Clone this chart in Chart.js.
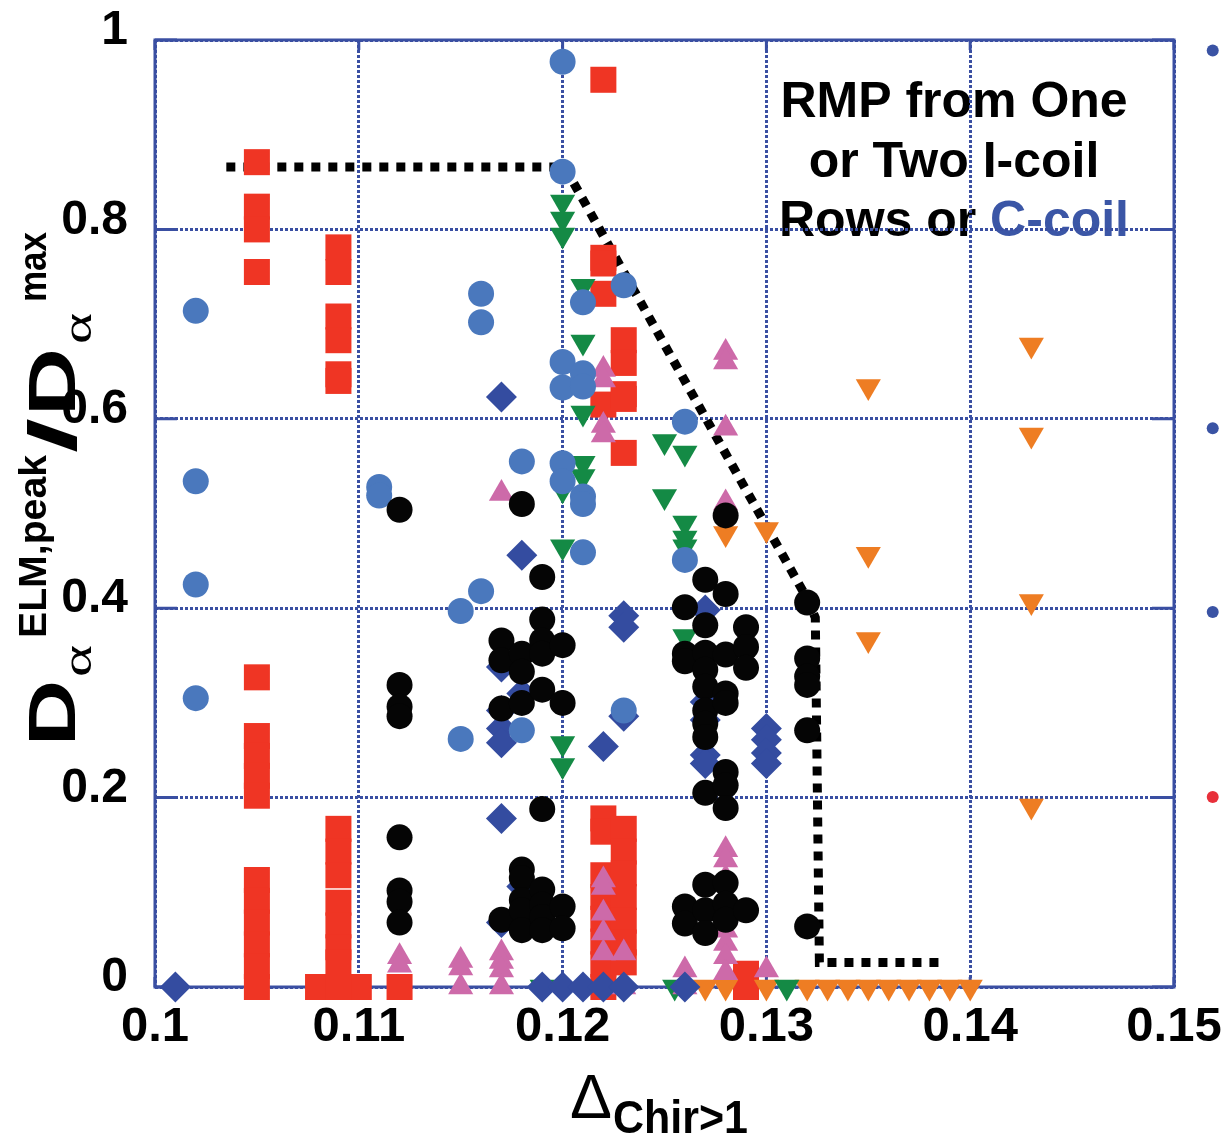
<!DOCTYPE html>
<html>
<head>
<meta charset="utf-8">
<script src="https://cdn.jsdelivr.net/npm/chart.js@4/dist/chart.umd.min.js"></script>
<style>
html,body{margin:0;padding:0;background:#fff;}
#wrap{width:1228px;height:1137px;position:relative;}
canvas{display:block;}
</style>
</head>
<body>
<div id="wrap"><canvas id="c" width="1228" height="1137"></canvas></div>
<script>
// ---------- DATA ----------
const xTickLabels = ['0.1', '0.11', '0.12', '0.13', '0.14', '0.15'];
const yTickLabels = ['0', '0.2', '0.4', '0.6', '0.8', '1'];

const lightBlueCircles = [
  [0.102,0.714],[0.102,0.534],[0.102,0.425],[0.102,0.305],
  [0.111,0.528],[0.111,0.519],
  [0.115,0.397],[0.115,0.262],
  [0.116,0.732],[0.116,0.702],[0.116,0.418],
  [0.118,0.555],[0.118,0.271],
  [0.120,0.977],[0.120,0.861],[0.120,0.660],[0.120,0.633],[0.120,0.553],[0.120,0.534],
  [0.121,0.723],[0.121,0.648],[0.121,0.634],[0.121,0.518],[0.121,0.510],[0.121,0.459],
  [0.123,0.741],[0.123,0.292],
  [0.126,0.597],[0.126,0.451]
];

const redSquares = [
  [0.105,0.871],[0.105,0.824],[0.105,0.800],[0.105,0.755],[0.105,0.327],
  [0.105,0.265],[0.105,0.244],[0.105,0.223],[0.105,0.202],
  [0.105,0.113],[0.105,0.091],[0.105,0.068],[0.105,0.045],[0.105,0.022],[0.105,0],
  [0.108,0],[0.110,0],[0.112,0],
  [0.109,0.781],[0.109,0.755],[0.109,0.708],[0.109,0.683],[0.109,0.647],[0.109,0.640],
  [0.109,0.167],[0.109,0.143],[0.109,0.118],[0.109,0.089],[0.109,0.065],[0.109,0.042],[0.109,0.026],[0.109,0],
  [0.122,0.958],[0.122,0.770],[0.122,0.764],[0.122,0.732],[0.122,0.615],
  [0.122,0.178],[0.122,0.164],[0.122,0.118],[0.122,0.095],[0.122,0.072],[0.122,0.048],[0.122,0.024],[0.122,0],
  [0.123,0.683],[0.123,0.659],[0.123,0.626],[0.123,0.621],[0.123,0.564],
  [0.123,0.167],[0.123,0.143],[0.123,0.120],[0.123,0.095],[0.123,0.070],[0.123,0.047],[0.123,0.026],
  [0.129,0.014],[0.129,0]
];

const navyDiamonds = [
  [0.101,0],[0.117,0.623],[0.118,0.456],[0.123,0.392],[0.123,0.380],[0.122,0.254],[0.123,0.286],
  [0.127,0.398],[0.127,0.301],[0.127,0.282],[0.127,0.245],[0.127,0.236],
  [0.130,0.273],[0.130,0.261],[0.130,0.247],[0.130,0.236],
  [0.117,0.338],[0.117,0.292],[0.117,0.273],[0.117,0.258],[0.117,0.178],[0.117,0.068],
  [0.118,0.310],[0.118,0.106],
  [0.119,0],[0.120,0],[0.121,0],[0.122,0],[0.123,0],[0.126,0]
];

const blackCircles = [
  [0.112,0.504],[0.112,0.319],[0.112,0.296],[0.112,0.286],[0.112,0.158],[0.112,0.102],[0.112,0.090],[0.112,0.068],
  [0.117,0.366],[0.117,0.345],[0.117,0.294],[0.117,0.071],
  [0.118,0.510],[0.118,0.352],[0.118,0.333],[0.118,0.300],[0.118,0.124],[0.118,0.115],[0.118,0.092],[0.118,0.081],[0.118,0.060],
  [0.119,0.433],[0.119,0.388],[0.119,0.366],[0.119,0.352],[0.119,0.314],[0.119,0.188],[0.119,0.103],[0.119,0.087],[0.119,0.074],[0.119,0.060],
  [0.120,0.361],[0.120,0.300],[0.120,0.085],[0.120,0.062],
  [0.126,0.401],[0.126,0.352],[0.126,0.344],[0.126,0.085],[0.126,0.067],
  [0.127,0.430],[0.127,0.382],[0.127,0.353],[0.127,0.335],[0.127,0.317],[0.127,0.292],[0.127,0.278],[0.127,0.264],[0.127,0.205],[0.127,0.108],[0.127,0.081],[0.127,0.057],
  [0.128,0.498],[0.128,0.415],[0.128,0.351],[0.128,0.310],[0.128,0.300],[0.128,0.227],[0.128,0.213],[0.128,0.189],[0.128,0.110],[0.128,0.088],[0.128,0.071],
  [0.129,0.380],[0.129,0.359],[0.129,0.337],[0.129,0.081],
  [0.132,0.406],[0.132,0.347],[0.132,0.328],[0.132,0.319],[0.132,0.271],[0.132,0.064]
];

const greenDownTriangles = [
  [0.120,0.829],[0.120,0.811],[0.120,0.794],[0.121,0.740],[0.121,0.681],[0.121,0.606],
  [0.121,0.553],[0.121,0.539],[0.120,0.525],[0.120,0.465],
  [0.125,0.576],[0.126,0.564],[0.125,0.518],[0.126,0.490],[0.126,0.474],[0.126,0.465],[0.126,0.370],
  [0.120,0.257],[0.120,0.234],
  [0.119,0],[0.1255,0],[0.131,0]
];

const orangeDownTriangles = [
  [0.143,0.678],[0.135,0.634],[0.143,0.583],[0.135,0.457],[0.143,0.407],[0.135,0.367],[0.143,0.191],
  [0.128,0.479],[0.130,0.483],
  [0.127,0],[0.128,0],[0.130,0],[0.132,0],[0.133,0],[0.134,0],[0.135,0],[0.136,0],[0.137,0],[0.138,0],[0.139,0],[0.140,0]
];

const pinkUpTriangles = [
  [0.117,0.521],[0.122,0.652],[0.122,0.641],[0.122,0.593],[0.122,0.583],
  [0.128,0.670],[0.128,0.660],[0.128,0.590],[0.128,0.511],
  [0.122,0.113],[0.122,0.105],[0.122,0.078],[0.122,0.057],[0.122,0.036],
  [0.123,0.036],[0.123,0],
  [0.126,0.018],[0.126,0],
  [0.128,0.145],[0.128,0.134],[0.128,0.115],[0.128,0.095],[0.128,0.074],[0.128,0.060],[0.128,0.046],[0.128,0.032],[0.128,0.015],
  [0.130,0.018],
  [0.112,0.032],[0.112,0.023],
  [0.115,0.028],[0.115,0.020],[0.115,0],
  [0.117,0.036],[0.117,0.027],[0.117,0.018],[0.117,0]
];

const boundaryLine = [
  [0.1035,0.866],[0.1201,0.866],[0.1320,0.410],[0.1324,0.390],[0.1326,0.026],[0.1388,0.026]
];

const sideBulletX = [0.1519, 0.1519, 0.1519, 0.1519];
const sideBulletY = [0.989, 0.590, 0.396, 0.2006];

// ---------- STYLE ----------
const GRID = '#3a4fa2';
const SANS = '"Liberation Sans", Arial, sans-serif';
const toPts = a => a.map(p => ({x: p[0], y: p[1]}));

function markerSet(label, data, style, radius, color, rotation) {
  return {
    label, data: toPts(data), showLine: false, clip: false,
    pointStyle: style, pointRadius: radius, pointHoverRadius: radius,
    pointBackgroundColor: color, backgroundColor: color,
    pointBorderWidth: 0, borderWidth: 0, pointRotation: rotation || 0
  };
}

const datasets = [
  markerSet('black', blackCircles, 'circle', 13, '#050505'),
  markerSet('lightblue', lightBlueCircles, 'circle', 13, '#4a78bd'),
  markerSet('navy', navyDiamonds, 'rectRot', 15.5, '#344ca0'),
  markerSet('pink', pinkUpTriangles, 'triangle', 14.5, '#cd6aa9'),
  markerSet('green', greenDownTriangles, 'triangle', 14.5, '#148a45', 180),
  markerSet('orange', orangeDownTriangles, 'triangle', 14.5, '#ee7d23', 180),
  markerSet('red', redSquares, 'rect', 18.4, '#ef3524'),
  {
    label: 'boundary', data: toPts(boundaryLine), showLine: true, clip: false,
    borderColor: '#000', borderWidth: 9, borderDash: [9, 8],
    pointRadius: 0, pointHoverRadius: 0, fill: false, tension: 0
  }
];

// ---------- PLUGINS ----------
const decorations = {
  id: 'decorations',
  beforeDraw(chart) {
    const ctx = chart.ctx;
    ctx.save();
    ctx.fillStyle = '#fff';
    ctx.fillRect(0, 0, chart.width, chart.height);
    // annotation text
    const cx = 954;
    ctx.font = 'bold 50px ' + SANS;
    ctx.textBaseline = 'alphabetic';
    ctx.fillStyle = '#000';
    ctx.textAlign = 'center';
    ctx.fillText('RMP from One', cx, 117);
    ctx.fillText('or Two I-coil', cx, 177);
    const a = 'Rows or ', b = 'C-coil';
    const wa = ctx.measureText(a).width, wb = ctx.measureText(b).width;
    const sx = cx - (wa + wb) / 2;
    ctx.textAlign = 'left';
    ctx.fillText(a, sx, 236);
    ctx.fillStyle = '#3b56a6';
    ctx.fillText(b, sx + wa, 236);
    ctx.restore();
  },
  beforeDatasetsDraw(chart) {
    const ctx = chart.ctx, ca = chart.chartArea;
    const xs = chart.scales.x, ys = chart.scales.y;
    ctx.save();
    ctx.strokeStyle = GRID;
    ctx.lineWidth = 3;
    ctx.setLineDash([]);
    ctx.strokeRect(ca.left, ca.top, ca.right - ca.left, ca.bottom - ca.top);
    ctx.beginPath();
    ys.ticks.forEach(t => {
      const y = ys.getPixelForValue(t.value);
      ctx.moveTo(ca.left, y); ctx.lineTo(ca.left + 22, y);
      ctx.moveTo(ca.right - 22, y); ctx.lineTo(ca.right, y);
    });
    xs.ticks.forEach(t => {
      const x = xs.getPixelForValue(t.value);
      ctx.moveTo(x, ca.top); ctx.lineTo(x, ca.top + 10);
      ctx.moveTo(x, ca.bottom - 10); ctx.lineTo(x, ca.bottom);
    });
    ctx.stroke();
    ctx.restore();
  },
  afterDraw(chart) {
    const ctx = chart.ctx;
    const xs = chart.scales.x, ys = chart.scales.y;
    // side bullets (cut-off items at the right edge)
    const bulletColors = ['#3a53a4', '#3a53a4', '#3a53a4', '#e8303a'];
    ctx.save();
    sideBulletX.forEach((v, i) => {
      ctx.beginPath();
      ctx.fillStyle = bulletColors[i];
      ctx.arc(xs.getPixelForValue(v), ys.getPixelForValue(sideBulletY[i]), 6, 0, Math.PI * 2);
      ctx.fill();
    });
    ctx.restore();

    // y-axis title (rotated, runs going upward)
    const rot = (text, font, yBottom, yTop, baseX) => {
      ctx.save();
      ctx.font = font;
      const w = ctx.measureText(text).width;
      ctx.translate(baseX, yBottom);
      ctx.rotate(-Math.PI / 2);
      ctx.scale((yBottom - yTop) / w, 1);
      ctx.fillStyle = '#000';
      ctx.textBaseline = 'alphabetic';
      ctx.textAlign = 'left';
      ctx.fillText(text, 0, 0);
      ctx.restore();
    };
    const big = 'bold 66px ' + SANS, sup = 'bold 38px ' + SANS, alpha = '42px "Liberation Serif", serif';
    rot('D', big, 746, 680, 75);
    rot('\u03b1', alpha, 677, 645, 91);
    rot('ELM,peak', sup, 638, 455, 46);
    rot('/', big, 453, 418, 75);
    rot('D', big, 416, 348, 75);
    rot('\u03b1', alpha, 344, 313, 91);
    rot('max', sup, 302, 232, 46);

    // x-axis title
    const run = (text, font, xLeft, xRight, baseY) => {
      ctx.save();
      ctx.font = font;
      const w = ctx.measureText(text).width;
      ctx.translate(xLeft, baseY);
      ctx.scale((xRight - xLeft) / w, 1);
      ctx.fillStyle = '#000';
      ctx.textBaseline = 'alphabetic';
      ctx.textAlign = 'left';
      ctx.fillText(text, 0, 0);
      ctx.restore();
    };
    run('\u0394', '63px ' + SANS, 570, 612, 1118);
    run('Chir>1', 'bold 46px ' + SANS, 613, 748, 1133);
  }
};

new Chart(document.getElementById('c'), {
  type: 'scatter',
  data: { datasets },
  options: {
    responsive: false,
    devicePixelRatio: 1,
    animation: false,
    events: [],
    layout: { padding: { top: 40, right: 54, left: 0, bottom: 0 } },
    plugins: { legend: { display: false }, tooltip: { enabled: false } },
    scales: {
      x: {
        type: 'linear', min: 0.1, max: 0.15,
        afterFit: s => { s.height = 150; s.paddingLeft = 0; s.paddingRight = 0; s.paddingTop = 0; s.paddingBottom = 0; },
        ticks: {
          stepSize: 0.01, color: '#000', padding: 11, maxRotation: 0, autoSkip: false,
          font: { family: SANS, weight: 'bold', size: 49 },
          callback: (v, i) => xTickLabels[i]
        },
        grid: { color: GRID, lineWidth: 3, drawTicks: false },
        border: { display: false, dash: [3, 2] }
      },
      y: {
        type: 'linear', min: 0, max: 1,
        afterFit: s => { s.width = 155; s.paddingTop = 0; s.paddingBottom = 0; s.paddingLeft = 0; s.paddingRight = 0; },
        ticks: {
          stepSize: 0.2, color: '#000', padding: 27, labelOffset: -9, autoSkip: false,
          font: { family: SANS, weight: 'bold', size: 48 },
          callback: (v, i) => yTickLabels[i]
        },
        grid: { color: GRID, lineWidth: 3, drawTicks: false },
        border: { display: false, dash: [3, 2] }
      }
    }
  },
  plugins: [decorations]
});
</script>
</body>
</html>
